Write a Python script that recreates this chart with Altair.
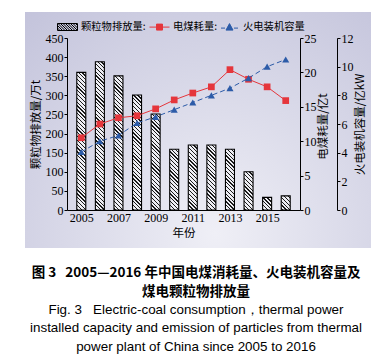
import math
import altair as alt
import pandas as pd

# ---------------- data ----------------
years = [2005, 2006, 2007, 2008, 2009, 2010, 2011, 2012, 2013, 2014, 2015, 2016]
emission = [360, 388, 351, 301, 251, 159, 170, 170, 159, 100, 33, 37]          # 万t
coal = [10.5, 12.5, 13.4, 13.7, 14.7, 16.0, 17.0, 17.9, 20.4, 19.0, 17.9, 15.9]  # 亿t
capacity = [4.05, 4.8, 5.2, 6.07, 6.5, 7.0, 7.5, 8.0, 8.5, 9.2, 10.0, 10.5]      # 亿kW
year_ticks = [2005, 2007, 2009, 2011, 2013, 2015]
emis_ticks = [0, 50, 100, 150, 200, 250, 300, 350, 400, 450]
coal_ticks = [0, 5, 10, 15, 20, 25]
cap_ticks = [0, 2, 4, 6, 8, 10, 12]
series = ["颗粒物排放量:", "电煤耗量:", "火电装机容量"]
caption_cn = ["图 3\u00a0\u00a0\u00a02005—2016 年中国电煤消耗量、火电装机容量及", "煤电颗粒物排放量"]
caption_en = ["Fig. 3\u00a0\u00a0\u00a0Electric-coal consumption，thermal power",
              "installed capacity and emission of particles from thermal",
              "power plant of China since 2005 to 2016"]

df = pd.DataFrame({"year": years, "emission": emission, "coal": coal, "capacity": capacity})

W, H = 233, 172
RED = "#e5363c"
BLUE = "#2c5ba8"
BAR_W = 9

x_enc = alt.X("year:Q",
              scale=alt.Scale(domain=[2004.5, 2016.5], nice=False, zero=False),
              axis=alt.Axis(values=year_ticks, format="d", title="年份", ticks=False, tickSize=0,
                            labelPadding=2, grid=False, titleY=23, titleBaseline="middle", zindex=1))


def hatch(h, w=BAR_W, s=2.7, lw=0.9, fg="#1a1a1a", bg="#eeeef4"):
    h = max(h, 1.0)
    r = w / h
    b = (r + 1) / (r * r + 1)
    a = r * b
    L = (w + h) / math.sqrt(2)
    stops = [{"offset": 0, "color": bg}]
    pos = 0.6
    while pos < L:
        p0 = round(pos / L, 5)
        p1 = round(min((pos + lw) / L, 1.0), 5)
        stops += [{"offset": p0, "color": bg}, {"offset": p0, "color": fg},
                  {"offset": p1, "color": fg}, {"offset": p1, "color": bg}]
        pos += s
    stops.append({"offset": 1, "color": bg})
    return {"gradient": "linear", "x1": 0, "y1": 1, "x2": round(a, 5), "y2": round(1 - b, 5),
            "stops": stops}


# background panel
bg_grad = {"gradient": "radial", "x1": 0.55, "y1": 0.8, "r1": 0, "x2": 0.55, "y2": 0.8, "r2": 0.85,
           "stops": [{"offset": 0, "color": "#efeff6"}, {"offset": 1, "color": "#c3c3db"}]}
background = alt.Chart(df).mark_rect(fill=bg_grad).encode(
    x=alt.value(-42), x2=alt.value(304), y=alt.value(-26), y2=alt.value(210))

y_emis = alt.Y("emission:Q", scale=alt.Scale(domain=[0, 450]),
               axis=alt.Axis(values=emis_ticks, title="颗粒物排放量/万t", grid=False, tickSize=3,
                             labelPadding=1, titleAngle=270, titleX=-31, titleY=86,
                             titleBaseline="middle", titleAlign="center", zindex=1))
bar_layers = []
for yr, v in zip(years, emission):
    hpx = v / 450 * H
    bar_layers.append(
        alt.Chart(df).transform_filter(alt.datum.year == yr).mark_bar(
            size=BAR_W, fill=hatch(hpx), stroke="black", strokeWidth=1.1).encode(x=x_enc, y=y_emis)
    )
bars = alt.layer(*bar_layers)

coal_y = alt.Y("coal:Q", scale=alt.Scale(domain=[0, 25]),
               axis=alt.Axis(orient="right", values=coal_ticks, title="电煤耗量/亿t", grid=False,
                             tickSize=3, labelPadding=1, titleAngle=270, titleX=23, titleY=88,
                             titleBaseline="middle", titleAlign="center", zindex=1))
coal_layer = alt.layer(
    alt.Chart(df).mark_line(color=RED, strokeWidth=1).encode(x=x_enc, y=coal_y),
    alt.Chart(df).mark_point(shape="square", filled=True, color=RED, size=45, opacity=1).encode(x=x_enc, y=coal_y),
)

cap_y = alt.Y("capacity:Q", scale=alt.Scale(domain=[0, 12]),
              axis=alt.Axis(orient="right", offset=37, values=cap_ticks, title="火电装机容量/亿kW",
                            grid=False, tickSize=3, labelPadding=1, titleAngle=270, titleX=23,
                            titleY=86, titleBaseline="middle", titleAlign="center", zindex=1))
cap_layer = alt.layer(
    alt.Chart(df).mark_line(color=BLUE, strokeWidth=1, strokeDash=[5, 3]).encode(x=x_enc, y=cap_y),
    alt.Chart(df).mark_point(shape="triangle-up", filled=True, color=BLUE, size=50, opacity=1).encode(x=x_enc, y=cap_y),
)

# legend symbols (custom paths)
def hatch_symbol():
    p = "M-1,-0.35L1,-0.35L1,0.35L-1,0.35Z"
    x0 = -1.7
    while x0 < 1.0:
        sx, sy = x0, -0.35
        ex, ey = x0 + 0.7, 0.35
        if sx < -1:
            sy = -0.35 + (-1 - sx)
            sx = -1
        if ex > 1:
            ey = 0.35 - (ex - 1)
            ex = 1
        if ex > sx:
            p += f"M{sx:.3f},{sy:.3f}L{ex:.3f},{ey:.3f}"
        x0 += 0.25
    return p

shapes = [hatch_symbol(),
          "M-1,0L1,0M-0.3,-0.3L0.3,-0.3L0.3,0.3L-0.3,0.3Z",
          "M-0.85,0.1L-0.45,0.1M0.45,0.1L0.85,0.1M-0.35,0.3L0,-0.35L0.35,0.3Z"]
leg = alt.Legend(orient="none", legendX=-10, legendY=-21.5, direction="horizontal", title=None,
                 labelFont="Noto Sans CJK SC", labelFontSize=10.3, labelColor="black",
                 symbolSize=400, symbolStrokeWidth=1, labelOffset=3, columnPadding=1, padding=0)
leg_df = pd.DataFrame({"s": series})
legend_layer = alt.Chart(leg_df).transform_filter("false").mark_point(opacity=1).encode(
    shape=alt.Shape("s:N", scale=alt.Scale(domain=series, range=shapes), legend=leg, sort=None),
    fill=alt.Fill("s:N", scale=alt.Scale(domain=series, range=["transparent", RED, BLUE]), legend=leg, sort=None),
    stroke=alt.Stroke("s:N", scale=alt.Scale(domain=series, range=["black", RED, BLUE]), legend=leg, sort=None),
)

chart = alt.layer(background, bars, coal_layer, cap_layer, legend_layer).resolve_scale(
    y="independent"
).properties(
    width=W, height=H, autosize="none",
    padding={"left": 59, "top": 30, "right": 78, "bottom": 144},
    title=alt.TitleParams(text=caption_cn, subtitle=caption_en, orient="bottom", anchor="middle",
                          frame="bounds", offset=18, dx=-2,
                          font="Noto Sans CJK SC", fontSize=13.5, fontWeight="bold", color="black",
                          lineHeight=18.5,
                          subtitleFont="Liberation Sans", subtitleFontSize=13.4, subtitleColor="black",
                          subtitleLineHeight=18.3, subtitlePadding=5),
).configure_axis(
    labelFont="Liberation Serif", labelFontSize=12, labelColor="black",
    titleFont="Noto Sans CJK SC", titleFontSize=11.5, titleFontWeight="normal", titleColor="black",
    domainColor="black", tickColor="black", domainWidth=1, tickWidth=1,
).configure_view(stroke=None)

chart.save("out.html", embed_options={"renderer": "svg", "actions": False})
